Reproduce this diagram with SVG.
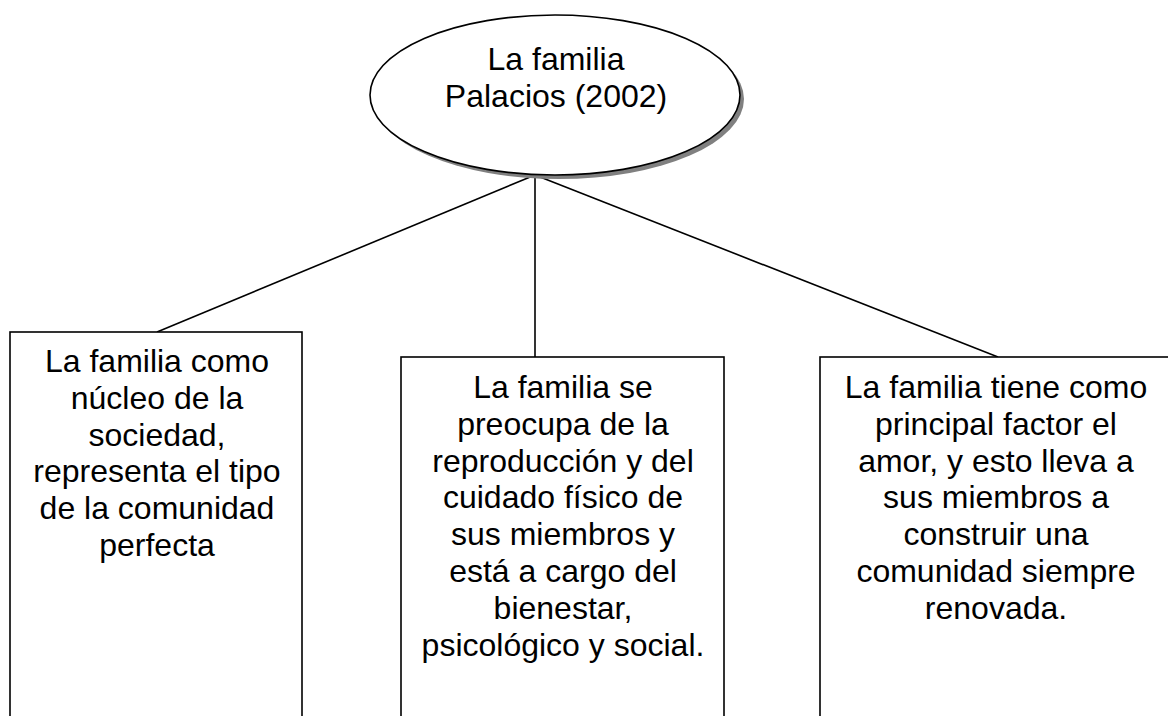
<svg xmlns="http://www.w3.org/2000/svg" width="1168" height="716" viewBox="0 0 1168 716">
<style>
.t{font-family:"Liberation Sans",Arial,sans-serif;font-size:32px;fill:#000;text-anchor:middle}
.box{fill:#fff;stroke:#000;stroke-width:1.6}
.ln{stroke:#000;stroke-width:1.6;fill:none}
</style>
<rect width="1168" height="716" fill="#fff"/>
<g id="connectors">
<line class="ln" x1="535" y1="175" x2="157" y2="332"/>
<line class="ln" x1="535" y1="175" x2="535" y2="357"/>
<line class="ln" x1="535" y1="175" x2="998" y2="357"/>
</g>
<g id="root">
<ellipse cx="559" cy="99" rx="185" ry="80" fill="#808080"/>
<ellipse cx="555" cy="95" rx="185" ry="80" fill="#fff" stroke="#000" stroke-width="1.6"/>
<text class="t" x="556" y="70">La familia</text>
<text class="t" x="556" y="107">Palacios (2002)</text>
</g>
<g id="left">
<rect class="box" x="10" y="332" width="292" height="400"/>
<text class="t" x="157" y="372">La familia como</text>
<text class="t" x="157" y="408.8">núcleo de la</text>
<text class="t" x="157" y="445.6">sociedad,</text>
<text class="t" x="157" y="482.4">representa el tipo</text>
<text class="t" x="157" y="519.2">de la comunidad</text>
<text class="t" x="157" y="556">perfecta</text>
</g>
<g id="middle">
<rect class="box" x="401" y="357" width="323" height="380"/>
<text class="t" x="563" y="398">La familia se</text>
<text class="t" x="563" y="434.8">preocupa de la</text>
<text class="t" x="563" y="471.6">reproducción y del</text>
<text class="t" x="563" y="508.4">cuidado físico de</text>
<text class="t" x="563" y="545.2">sus miembros y</text>
<text class="t" x="563" y="582">está a cargo del</text>
<text class="t" x="563" y="618.8">bienestar,</text>
<text class="t" x="563" y="655.6">psicológico y social.</text>
</g>
<g id="right">
<rect class="box" x="820" y="357" width="352" height="380"/>
<text class="t" x="996" y="398">La familia tiene como</text>
<text class="t" x="996" y="434.8">principal factor el</text>
<text class="t" x="996" y="471.6">amor, y esto lleva a</text>
<text class="t" x="996" y="508.4">sus miembros a</text>
<text class="t" x="996" y="545.2">construir una</text>
<text class="t" x="996" y="582">comunidad siempre</text>
<text class="t" x="996" y="618.8">renovada.</text>
</g>
</svg>
